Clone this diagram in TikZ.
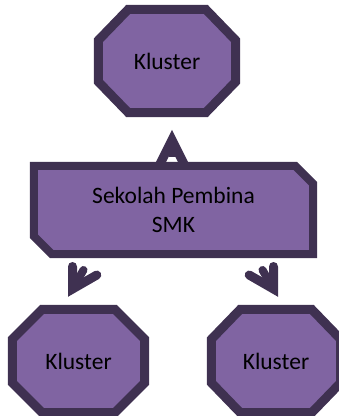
\documentclass[tikz,border=0pt]{standalone}
\usepackage{fontspec}
\setmainfont{Carlito}
\definecolor{kfill}{HTML}{8064A2}
\definecolor{kline}{HTML}{3F3151}
\pgfdeclarelayer{under}
\pgfsetlayers{under,main}
\tikzset{
  box/.style={shape=rectangle, inner sep=0pt, text=black,
    font=\fontsize{23.5}{29}\selectfont, align=center},
  rim/.style={draw=kline, fill=kfill, line width=#1, line join=miter},
  barb/.style={draw=kline, line width=9pt, line join=miter, line cap=round},
  shaft/.style={draw=kline, line width=8pt, line cap=round},
}
% octagonal outline round a node: node name, horizontal cut, vertical cut
\newcommand\octagonrim[3]{%
  \path[rim=9pt] ([xshift=#2]#1.north west) -- ([xshift=-#2]#1.north east)
    -- ([yshift=-#3]#1.north east) -- ([yshift=#3]#1.south east)
    -- ([xshift=-#2]#1.south east) -- ([xshift=#2]#1.south west)
    -- ([yshift=#3]#1.south west) -- ([yshift=-#3]#1.north west) -- cycle;}
\begin{document}
\begin{tikzpicture}[x=1pt, y=-1pt]
\useasboundingbox (0,0) rectangle (339,416);

% labels (outlines go on the layer underneath)
\node[box, minimum width=137pt, minimum height=103pt] (kTop) at (167,61) {Kluster};
\node[box, minimum width=279pt, minimum height=88pt] (school) at (173.5,210) {Sekolah Pembina\\SMK};
\node[box, minimum width=132pt, minimum height=103pt] (kLeft) at (78.5,361) {Kluster};
\node[box, minimum width=129pt, minimum height=103pt] (kRight) at (276,361) {Kluster};

% arrow ends
\coordinate (upTip) at (172,140);
\coordinate (upFoot) at (172,157);
\coordinate (upL) at (159,166);
\coordinate (upR) at (185,166);

\coordinate (lTip) at (72.5,289);
\coordinate (lBarbA) at (72.5,266.5);
\coordinate (lBarbB) at (96.8,275);
\coordinate (lFoot) at (83.5,270);

\coordinate (rTip) at (273.5,289);
\coordinate (rBarbA) at (273.5,266.5);
\coordinate (rBarbB) at (249.2,275);
\coordinate (rFoot) at (262.5,270);

\begin{pgfonlayer}{under}
  % connectors
  \path[barb, line cap=butt] (upL) -- (upTip) -- (upR);
  \path[draw=kline, line width=7pt] (upFoot) -- (upTip);
  \path[barb] (lBarbA) -- (lTip) -- (lBarbB);
  \path[shaft] (lFoot) -- (lTip);
  \path[barb] (rBarbA) -- (rTip) -- (rBarbB);
  \path[shaft] (rFoot) -- (rTip);
  % shapes
  \octagonrim{kTop}{30pt}{31pt}
  \octagonrim{kLeft}{30pt}{30pt}
  \octagonrim{kRight}{29pt}{30pt}
  \path[rim=8pt] (school.north west) -- ([xshift=-18pt]school.north east)
    -- ([yshift=-18pt]school.north east) -- (school.south east)
    -- ([xshift=18pt]school.south west) -- ([yshift=18pt]school.south west) -- cycle;
\end{pgfonlayer}
\end{tikzpicture}
\end{document}
